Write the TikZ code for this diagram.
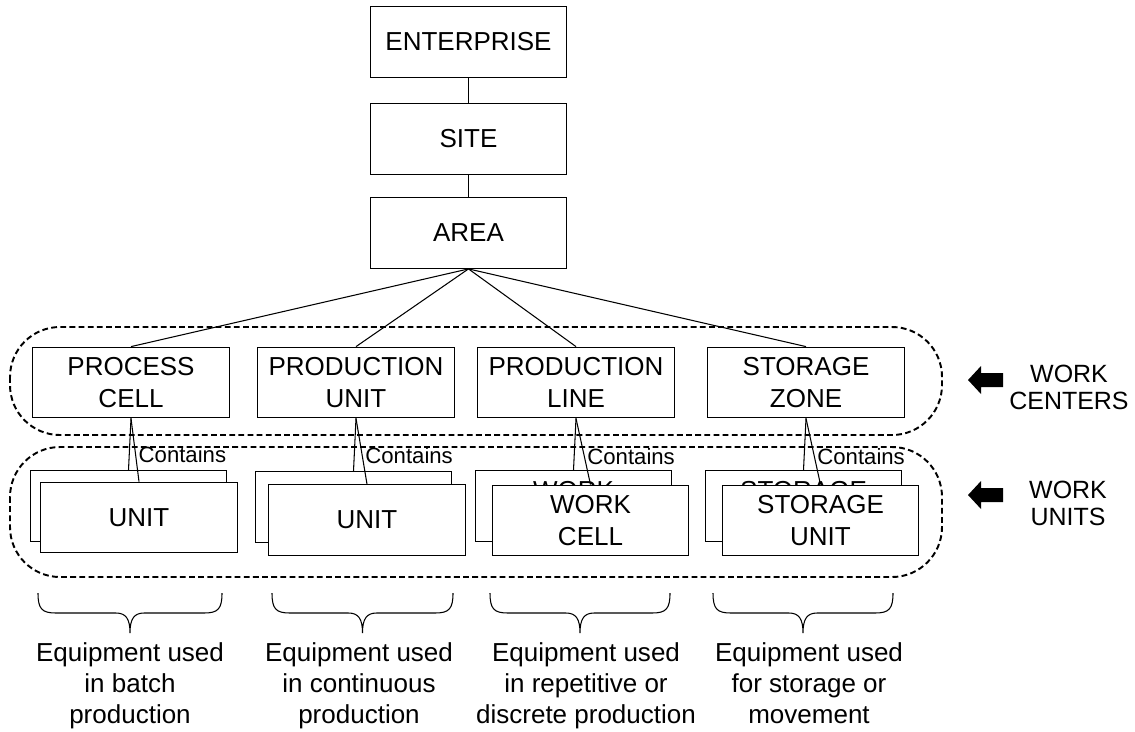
\documentclass[tikz,border=0pt]{standalone}
\usepackage{fontspec}
\setmainfont{Liberation Sans}
\usetikzlibrary{positioning}

\begin{document}
\begin{tikzpicture}[x=0.02cm, y=-0.02cm,
    box/.style={draw, line width=0.75pt, fill=white, minimum width=3.93cm, minimum height=1.41cm, inner sep=0pt, align=center, font=\fontsize{14.8}{17.8}\selectfont},
    link/.style={line width=0.6pt},
    group/.style={line width=1.1pt, dash pattern=on 3.3pt off 1.9pt, rounded corners=1cm},
    contains/.style={right, inner sep=1.5pt, font=\fontsize{12.6}{15}\selectfont},
    tag/.style={inner sep=0pt, align=center, font=\fontsize{14.2}{15.3}\selectfont},
    note/.style={anchor=north, inner sep=0pt, align=center, font=\fontsize{14.8}{17.6}\selectfont}]
\useasboundingbox (0,0) rectangle (1135,731);

\node[box] (ent) at (468.5,42) {ENTERPRISE};
\node[box] (site) at (468.5,139) {SITE};
\node[box] (area) at (468.5,233) {AREA};
\draw[link] (ent) -- (site);
\draw[link] (site) -- (area);

\draw[group] (10,327) rectangle (942,435);
\draw[group] (10,447) rectangle (942,577);

\node[box] (cell) at (131,382.5) {PROCESS\\CELL};
\node[box] (punit) at (356,382.5) {PRODUCTION\\UNIT};
\node[box] (pline) at (576,382.5) {PRODUCTION\\LINE};
\node[box] (zone) at (806,382.5) {STORAGE\\ZONE};
\foreach \wc in {cell, punit, pline, zone}
    \draw[link] (area.south) -- (\wc.north);

\node[box] (unitb) at (128.5,506) {};
\node[box] (unit) at (139,517.5) {UNIT};
\node[box] (cunitb) at (353.5,507) {};
\node[box] (cunit) at (367,520) {UNIT};
\node[box] (wcellb) at (573.5,506) {WORK\\CELL};
\node[box] (wcell) at (590.5,520.5) {WORK\\CELL};
\node[box] (sunitb) at (803.5,506) {STORAGE\\UNIT};
\node[box] (sunit) at (820.5,520.5) {STORAGE\\UNIT};

\foreach \wc/\wu/\wb in {cell/unit/unitb, punit/cunit/cunitb, pline/wcell/wcellb, zone/sunit/sunitb} {
    \draw[link] (\wc.south) -- (\wb.north);
    \draw[link] (\wc.south) -- node[contains, pos=0.57] {Contains} (\wu.north);
}

\node[tag] (wcen) at (1069,387.5) {WORK\\CENTERS};
\node[tag] (wun) at (1068,503.5) {WORK\\UNITS};
\foreach \y in {380,495}
    \fill (968,\y) -- (981,\y-14) -- (981,\y-7) -- (1003,\y-7) -- (1003,\y+7) -- (981,\y+7) -- (981,\y+14) -- cycle;

\foreach \l/\r in {38/222, 272/453, 490/670, 713/893} {
    \pgfmathsetmacro\m{(\l+\r)/2}
    \draw[link] (\l,593) .. controls (\l,609) and (\l+4,613) .. (\l+18,613) -- (\m-14,613)
        .. controls (\m-4,613) and (\m,619) .. (\m,633)
        .. controls (\m,619) and (\m+4,613) .. (\m+14,613) -- (\r-18,613)
        .. controls (\r-4,613) and (\r,609) .. (\r,593);
}

\node[note] (eq1) at (130,642) {Equipment used\\in batch\\production};
\node[note] (eq2) at (359,642) {Equipment used\\in continuous\\production};
\node[note] (eq3) at (586,642) {Equipment used\\in repetitive or\\discrete production};
\node[note] (eq4) at (809,642) {Equipment used\\for storage or\\movement};
\end{tikzpicture}
\end{document}
